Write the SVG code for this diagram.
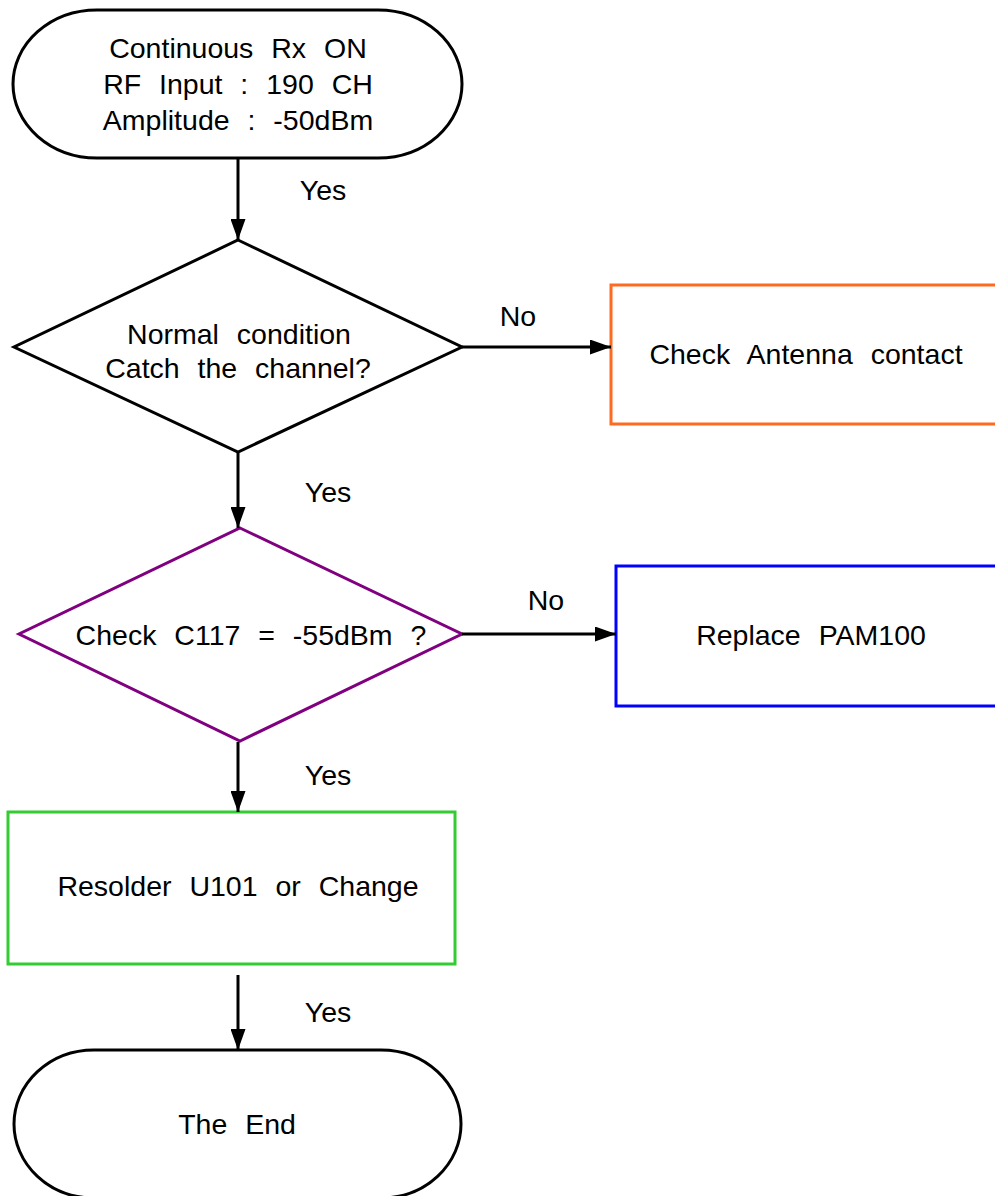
<svg xmlns="http://www.w3.org/2000/svg" width="995" height="1196" viewBox="0 0 995 1196">
<style>
text{font-family:"Liberation Sans",Arial,sans-serif;font-size:28.5px;fill:#000;text-anchor:middle;word-spacing:10px}
.term{fill:#fff;stroke:#000;stroke-width:3}
.conn{stroke:#000;stroke-width:3;fill:none;marker-end:url(#ah)}
</style>
<defs>
<marker id="ah" markerWidth="7" markerHeight="5" refX="7" refY="2.5" orient="auto" markerUnits="strokeWidth">
<path d="M0,0 L7,2.5 L0,5 Z" fill="#000"/>
</marker>
</defs>
<rect width="995" height="1196" fill="#fff"/>
<g id="start">
<path class="term" d="M97,10 L378,10 A84,74 0 0 1 378,158 L97,158 A84,74 0 0 1 97,10 Z"/>
<text x="238" y="58">Continuous Rx ON</text>
<text x="238" y="94">RF Input : 190 CH</text>
<text x="238" y="130">Amplitude : -50dBm</text>
</g>
<g id="d1">
<polygon points="238,240 462,347 238,452 14,347" fill="#fff" stroke="#000" stroke-width="3"/>
<text x="239" y="344">Normal condition</text>
<text x="238" y="378">Catch the channel?</text>
</g>
<g id="antenna">
<rect x="611" y="285" width="400" height="139" fill="#fff" stroke="#FF6A21" stroke-width="3"/>
<text x="806" y="364">Check Antenna contact</text>
</g>
<g id="d2">
<polygon points="240,528 462,634 240,741 19,634" fill="#fff" stroke="#800080" stroke-width="3"/>
<text x="251" y="645">Check C117 = -55dBm ?</text>
</g>
<g id="pam">
<rect x="616" y="566" width="400" height="140" fill="#fff" stroke="#0000FF" stroke-width="3"/>
<text x="811" y="645">Replace PAM100</text>
</g>
<g id="resolder">
<rect x="8" y="812" width="447" height="152" fill="#fff" stroke="#33CC33" stroke-width="3"/>
<text x="238" y="896">Resolder U101 or Change</text>
</g>
<g id="end">
<path class="term" d="M94,1050 L381,1050 A80,74 0 0 1 381,1198 L94,1198 A80,74 0 0 1 94,1050 Z"/>
<text x="237" y="1134">The End</text>
</g>
<g id="connectors">
<line class="conn" x1="238" y1="159" x2="238" y2="240"/>
<line class="conn" x1="238" y1="453" x2="238" y2="528"/>
<line class="conn" x1="238" y1="742" x2="238" y2="812"/>
<line class="conn" x1="238" y1="975" x2="238" y2="1050"/>
<line class="conn" x1="462" y1="347" x2="611" y2="347"/>
<line class="conn" x1="462" y1="634" x2="616" y2="634"/>
<text x="323" y="200">Yes</text>
<text x="328" y="502">Yes</text>
<text x="328" y="785">Yes</text>
<text x="328" y="1022">Yes</text>
<text x="518" y="326">No</text>
<text x="546" y="610">No</text>
</g>
</svg>
